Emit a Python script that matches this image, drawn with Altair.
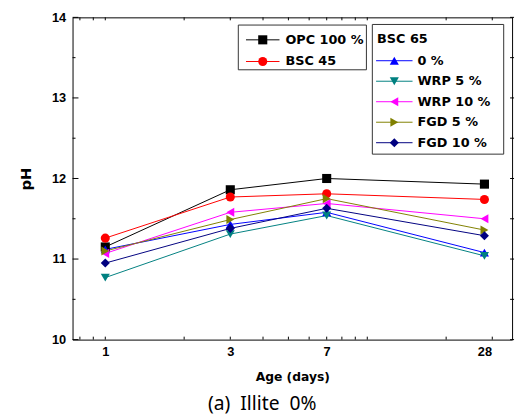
import altair as alt
import pandas as pd

# ---------------- data ----------------
series = ["OPC 100 %", "BSC 45", "0 %", "WRP 5 %", "WRP 10 %", "FGD 5 %", "FGD 10 %"]
days = [1, 3, 7, 28]
opc100 = [11.15, 11.86, 12.00, 11.93]
bsc45 = [11.26, 11.77, 11.81, 11.74]
bsc65_0 = [11.12, 11.43, 11.58, 11.08]
wrp5 = [10.77, 11.31, 11.54, 11.04]
wrp10 = [11.07, 11.58, 11.69, 11.50]
fgd5 = [11.10, 11.49, 11.75, 11.36]
fgd10 = [10.95, 11.38, 11.63, 11.29]
legend_group_title = "BSC 65"
caption = "(a)\u00a0\u00a0Illite\u00a0\u00a00%"
x_title = "Age (days)"
y_title = "pH"
x_tick_labels = [1, 3, 7, 28]
y_tick_labels = [10, 11, 12, 13, 14]
x_minor = [0.8, 0.9, 1, 2, 3, 4, 5, 6, 7, 8, 9, 10, 20, 30]
y_minor = [10.5, 11.5, 12.5, 13.5]

colors = ["#000000", "#ff0000", "#0000ff", "#008080", "#ff00ff", "#808000", "#000080"]
shapes = ["square", "circle", "triangle-up", "triangle-down", "triangle-left", "triangle-right", "diamond"]

vals = [opc100, bsc45, bsc65_0, wrp5, wrp10, fgd5, fgd10]
rows = []
for s, v in zip(series, vals):
    for d, p in zip(days, v):
        rows.append({"series": s, "day": d, "pH": p})
df = pd.DataFrame(rows)

# ---------------- layout ----------------
W, H = 446, 327
BOLD_LABEL_FONT = "Liberation Sans"
TEXT_FONT = "DejaVu Sans"
MSIZE = 85

cscale = alt.Scale(domain=series, range=colors)
sscale = alt.Scale(domain=series, range=shapes)
xscale = alt.Scale(type="log", domain=[0.75, 35.7], nice=False)
yscale = alt.Scale(domain=[10, 14], nice=False, zero=False)

xaxis = alt.Axis(values=x_tick_labels, format="d", grid=False, domain=False, ticks=False, tickSize=0,
                 labelFont=BOLD_LABEL_FONT, labelFontWeight="bold", labelFontSize=13, labelColor="black",
                 labelPadding=6, labelFlush=False, labelOverlap=False,
                 title=x_title, titleFont=TEXT_FONT, titleFontSize=12.5, titleFontWeight="bold",
                 titleColor="black", titleX=W / 2, titleY=37, titleBaseline="middle", titleAlign="center")
yaxis = alt.Axis(values=y_tick_labels, format="d", grid=False, domain=False, ticks=False, tickSize=0,
                 labelFont=BOLD_LABEL_FONT, labelFontWeight="bold", labelFontSize=13, labelColor="black",
                 labelPadding=7, labelFlush=False, labelOverlap=False,
                 title=y_title, titleFont=TEXT_FONT, titleFontSize=15, titleFontWeight="bold",
                 titleColor="black", titleX=-47.5, titleY=H / 2, titleAngle=270,
                 titleBaseline="middle", titleAlign="center")

base = alt.Chart(df)
lines = base.mark_line(strokeWidth=1).encode(
    x=alt.X("day:Q", scale=xscale, axis=xaxis),
    y=alt.Y("pH:Q", scale=yscale, axis=yaxis),
    color=alt.Color("series:N", scale=cscale, legend=None),
    detail="series:N",
)
points = base.mark_point(filled=True, size=MSIZE, opacity=1).encode(
    x="day:Q", y="pH:Q",
    color=alt.Color("series:N", scale=cscale, legend=None),
    shape=alt.Shape("series:N", scale=sscale, legend=None),
)

xt = pd.DataFrame({"day": x_minor})
yt_min = pd.DataFrame({"pH": y_minor})
yt_maj = pd.DataFrame({"pH": y_tick_labels})
tick_bottom = alt.Chart(xt).mark_rule(color="black", strokeWidth=1).encode(
    x="day:Q", y=alt.value(H), y2=alt.value(H - 3))
tick_top = alt.Chart(xt).mark_rule(color="black", strokeWidth=1).encode(
    x="day:Q", y=alt.value(0), y2=alt.value(3))
tick_left_min = alt.Chart(yt_min).mark_rule(color="black", strokeWidth=1).encode(
    y="pH:Q", x=alt.value(0), x2=alt.value(3))
tick_left_maj = alt.Chart(yt_maj).mark_rule(color="black", strokeWidth=1).encode(
    y="pH:Q", x=alt.value(0), x2=alt.value(6))
tick_right = alt.Chart(pd.concat([yt_min, yt_maj])).mark_rule(color="black", strokeWidth=1).encode(
    y="pH:Q", x=alt.value(W - 2), x2=alt.value(W + 2))

main = alt.layer(lines, points, tick_bottom, tick_top, tick_left_min, tick_left_maj, tick_right)

# ---------------- legend (pixel layer) ----------------
g1 = series[:2]
g2 = series[2:]
leg_rows = []
for i, s in enumerate(g1):
    y = 22.8 + 22 * i
    leg_rows.append({"series": s, "y": y, "x1": 176, "x2": 210, "xs": 193, "xt": 216})
for i, s in enumerate(g2):
    y = 44 + 20.8 * i
    leg_rows.append({"series": s, "y": y, "x1": 308, "x2": 345, "xs": 326.5, "xt": 350})
leg = pd.DataFrame(leg_rows)
boxes = pd.DataFrame({"x": [168.2, 304.2], "x2": [298.2, 437.5], "y": [7.8, 7.2], "y2": [53.2, 138.8]})

px = alt.Scale(domain=[0, W], range=[0, W], nice=False, zero=False)
py = alt.Scale(domain=[0, H], reverse=True, nice=False, zero=False)

box_layer = alt.Chart(boxes).mark_rect(fill="white", stroke="#333333", strokeWidth=1).encode(
    x=alt.X("x:Q", scale=px, axis=None), x2="x2:Q",
    y=alt.Y("y:Q", scale=py, axis=None), y2="y2:Q")
seg_layer = alt.Chart(leg).mark_rule(strokeWidth=1).encode(
    x=alt.X("x1:Q", scale=px, axis=None), x2="x2:Q",
    y=alt.Y("y:Q", scale=py, axis=None),
    color=alt.Color("series:N", scale=cscale, legend=None))
sym_layer = alt.Chart(leg).mark_point(filled=True, size=MSIZE, opacity=1).encode(
    x=alt.X("xs:Q", scale=px, axis=None),
    y=alt.Y("y:Q", scale=py, axis=None),
    color=alt.Color("series:N", scale=cscale, legend=None),
    shape=alt.Shape("series:N", scale=sscale, legend=None))
txt_layer = alt.Chart(leg).mark_text(align="left", baseline="middle", font=TEXT_FONT,
                                     fontWeight="bold", fontSize=13, color="black").encode(
    x=alt.X("xt:Q", scale=px, axis=None),
    y=alt.Y("y:Q", scale=py, axis=None),
    text="series:N")
title_df = pd.DataFrame({"t": [legend_group_title], "x": [309], "y": [22.2]})
gtitle = alt.Chart(title_df).mark_text(align="left", baseline="middle", font=TEXT_FONT,
                                       fontWeight="bold", fontSize=13, color="black").encode(
    x=alt.X("x:Q", scale=px, axis=None), y=alt.Y("y:Q", scale=py, axis=None), text="t:N")
cap_df = pd.DataFrame({"t": [caption], "x": [192.5], "y": [392.5]})
cap = alt.Chart(cap_df).mark_text(align="center", baseline="middle", font="Noto Sans",
                                  fontSize=19.5, color="black").encode(
    x=alt.X("x:Q", scale=px, axis=None), y=alt.Y("y:Q", scale=py, axis=None), text="t:N")

legend_layer = alt.layer(box_layer, seg_layer, sym_layer, txt_layer, gtitle, cap)

chart = alt.layer(main, legend_layer).resolve_scale(
    x="independent", y="independent"
).properties(
    width=W, height=H,
    autosize=alt.AutoSizeParams(type="none"),
    padding={"left": 65.5, "top": 6.5, "right": 5, "bottom": 74},
).configure_view(stroke="black", strokeWidth=1)

chart.save("out.html", embed_options={"renderer": "svg", "actions": False})
